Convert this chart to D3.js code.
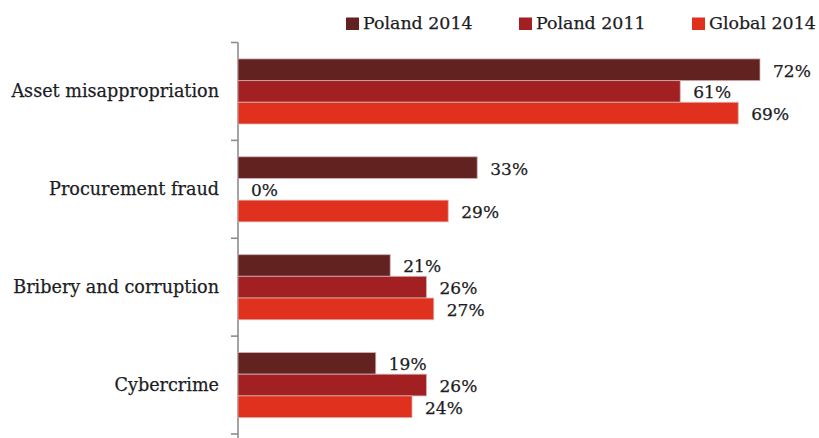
<!DOCTYPE html>
<html>
<head>
<meta charset="utf-8">
<script src="https://cdn.jsdelivr.net/npm/d3@7"></script>
<style>
  html, body { margin: 0; padding: 0; background: #fff; }
  svg { display: block; }
  text { font-family: "DejaVu Serif", Georgia, serif; fill: #1c1c24; stroke: #1c1c24; stroke-width: 0.25px; }
</style>
</head>
<body>
<svg id="chart" width="819" height="438"></svg>
<script>
// Fraud types by share of respondents (%)
const categories = ["Asset misappropriation", "Procurement fraud", "Bribery and corruption", "Cybercrime"];
const seriesNames = ["Poland 2014", "Poland 2011", "Global 2014"];
const poland2014 = [72, 33, 21, 19];
const poland2011 = [61, 0, 26, 26];
const global2014 = [69, 29, 27, 24];
const seriesValues = [poland2014, poland2011, global2014];
const colors = ["#612220", "#a21f22", "#e0311f"];

const svg = d3.select("#chart");
const fontSize = 17;

const x = d3.scaleLinear().domain([0, 100]).range([238, 963]);
const y = d3.scaleBand().domain(categories).range([42.5, 434]).paddingInner(0.335).paddingOuter(0.1675);
const ySub = d3.scaleBand().domain(seriesNames).range([0, y.bandwidth()]);

// Vertical category axis with outer ticks at band boundaries
const axisX = x(0);
const step = y.step();
const boundaries = d3.range(categories.length + 1).map(i => y.range()[0] + i * step);
svg.append("line")
  .attr("x1", axisX).attr("x2", axisX)
  .attr("y1", boundaries[0]).attr("y2", boundaries[boundaries.length - 1] + 4)
  .attr("stroke", "#8c8c8c").attr("stroke-width", 1.6);
svg.selectAll("line.tick").data(boundaries).join("line")
  .attr("class", "tick")
  .attr("x1", axisX - 7).attr("x2", axisX)
  .attr("y1", d => d).attr("y2", d => d)
  .attr("stroke", "#8c8c8c").attr("stroke-width", 1.6);

// Category labels
svg.selectAll("text.cat").data(categories).join("text")
  .attr("class", "cat")
  .attr("x", axisX - 19)
  .attr("y", d => y(d) + y.bandwidth() / 2 + 6)
  .attr("text-anchor", "end")
  .attr("font-size", 17.6)
  .text(d => d);

// Bars
const rows = [];
categories.forEach((c, ci) => {
  seriesNames.forEach((s, si) => {
    rows.push({ cat: c, series: s, si, value: seriesValues[si][ci] });
  });
});

const groups = svg.selectAll("g.grp").data(categories).join("g")
  .attr("class", "grp")
  .attr("transform", d => `translate(0,${y(d)})`);

groups.selectAll("rect").data(c => rows.filter(r => r.cat === c && r.value > 0)).join("rect")
  .attr("x", x(0))
  .attr("y", d => ySub(d.series))
  .attr("width", d => x(d.value) - x(0))
  .attr("height", ySub.bandwidth())
  .attr("fill", d => colors[d.si])
  .attr("stroke", "rgba(215,180,180,0.75)")
  .attr("stroke-width", 1);

groups.selectAll("text").data(c => rows.filter(r => r.cat === c)).join("text")
  .attr("x", d => x(d.value) + 13)
  .attr("y", d => ySub(d.series) + ySub.bandwidth() / 2 + 7)
  .attr("font-size", fontSize)
  .text(d => d.value + "%");

// Legend
const legendX = d3.scalePoint().domain(seriesNames).range([346, 692]);
const legend = svg.selectAll("g.leg").data(seriesNames).join("g")
  .attr("class", "leg")
  .attr("transform", d => `translate(${legendX(d)},0)`);
legend.append("rect")
  .attr("x", 0).attr("y", 17.5)
  .attr("width", 13).attr("height", 12.5)
  .attr("fill", (d, i) => colors[i])
  .attr("stroke", "none");
legend.append("text")
  .attr("x", 17).attr("y", 29)
  .attr("font-size", 17.4)
  .text(d => d);
</script>
</body>
</html>
